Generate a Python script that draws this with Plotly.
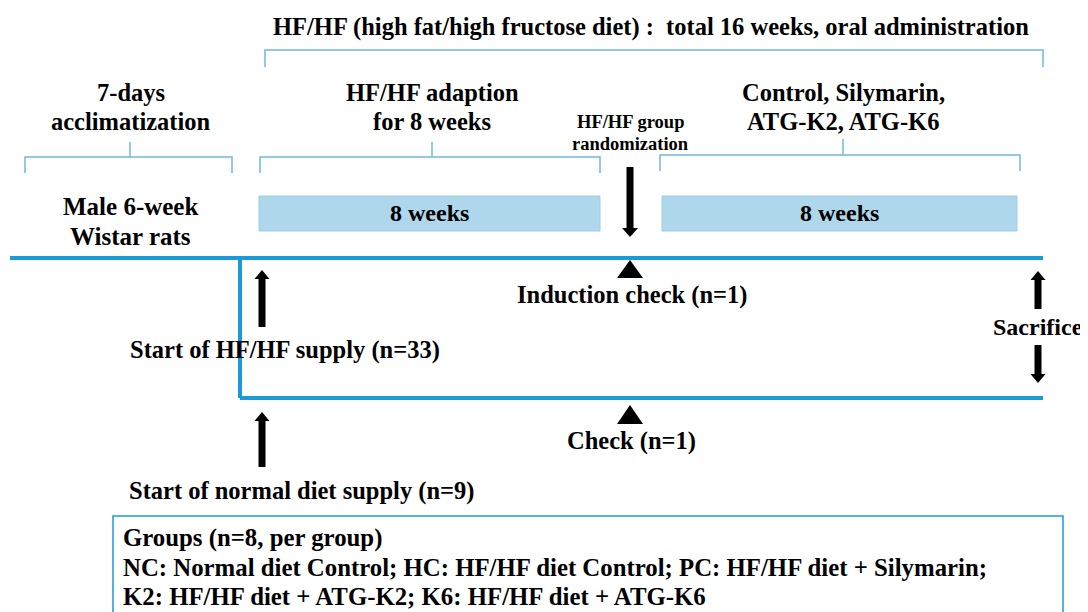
import plotly.graph_objects as go

# ---- text content ----
title_text = "HF/HF (high fat/high fructose diet) :  total 16 weeks, oral administration"
phase_labels = [["7-days", "acclimatization"],
                ["HF/HF adaption", "for 8 weeks"],
                ["Control, Silymarin,", "ATG-K2, ATG-K6"]]
rand_labels = ["HF/HF group", "randomization"]
bar_labels = ["8 weeks", "8 weeks"]
animal_labels = ["Male 6-week", "Wistar rats"]
event_labels = ["Start of HF/HF supply (n=33)", "Induction check (n=1)", "Sacrifice",
                "Start of normal diet supply (n=9)", "Check (n=1)"]
group_lines = ["Groups (n=8, per group)",
               "NC: Normal diet Control; HC: HF/HF diet Control; PC: HF/HF diet + Silymarin;",
               "K2: HF/HF diet + ATG-K2; K6: HF/HF diet + ATG-K6"]

# ---- layout geometry (pixel canvas; page has an 8px body margin) ----
W, H = 1088, 612
OFF = 8
FONT = "Liberation Serif, Times New Roman, serif"
BRACKET = "#72B6E2"
MAINLINE = "#1B9AD8"
BARFILL = "#AFD7EC"
BAREDGE = "#9CCDE9"

shapes = []
annots = []


def txt(x, y, s, size=24, xanchor="center"):
    annots.append(dict(x=x, y=y, xref="x", yref="y", text="<b>%s</b>" % s, showarrow=False,
                       xanchor=xanchor, yanchor="middle",
                       font=dict(family=FONT, size=size, color="black")))


def bracket(x0, x1, yh, ytick, xc=None, ytop=None):
    shapes.append(dict(type="path", path="M%d,%d V%d H%d V%d" % (x0, ytick, yh, x1, ytick),
                       line=dict(color=BRACKET, width=1.5)))
    if xc is not None:
        shapes.append(dict(type="line", x0=xc, x1=xc, y0=yh, y1=ytop,
                           line=dict(color=BRACKET, width=1.5)))


def arrow(x, ytail, yhead, body=7, headw=15, headh=9):
    d = 1 if yhead > ytail else -1
    yb = yhead - d * headh
    shapes.append(dict(type="rect", x0=x - body / 2, x1=x + body / 2, y0=ytail, y1=yb,
                       fillcolor="black", line=dict(width=0)))
    shapes.append(dict(type="path",
                       path="M%.1f,%.1f L%.1f,%.1f L%.1f,%.1f Z" % (x - headw / 2, yb, x + headw / 2, yb, x, yhead),
                       fillcolor="black", line=dict(width=0)))


def triangle(xc, yapex, ybase, w=26):
    shapes.append(dict(type="path",
                       path="M%.1f,%.1f L%.1f,%.1f L%.1f,%.1f Z" % (xc - w / 2, ybase, xc + w / 2, ybase, xc, yapex),
                       fillcolor="black", line=dict(width=0)))


# title and top bracket
txt(651, 27, title_text, 24.5)
bracket(265, 1043, 50, 67)

# phase headers
phase_x = [131, 432, 843]
for px, lines in zip(phase_x, phase_labels):
    txt(px, 92, lines[0], 24.5)
    txt(px, 121, lines[1], 24.5)
bracket(25, 232, 157, 173, 130, 142)
bracket(260, 600, 157, 173, 432, 142)
bracket(660, 1020, 155, 171, 843, 139)

# randomization label + arrow
txt(630, 122, rand_labels[0], 18.5)
txt(630, 144, rand_labels[1], 18.5)
arrow(630, 167, 237, body=7, headw=16, headh=9)

# bars
for (x0, x1), lab in zip([(259, 600), (662, 1017)], bar_labels):
    shapes.append(dict(type="rect", x0=x0, x1=x1, y0=196, y1=231, fillcolor=BARFILL,
                       line=dict(color=BAREDGE, width=1)))
    txt((x0 + x1) / 2, 213, lab, 24)

txt(130, 206, animal_labels[0], 25)
txt(130, 236, animal_labels[1], 25)

# timelines
shapes.append(dict(type="line", x0=10, x1=1043, y0=258, y1=258, line=dict(color=MAINLINE, width=4)))
shapes.append(dict(type="line", x0=240, x1=240, y0=258, y1=398, line=dict(color=MAINLINE, width=4)))
shapes.append(dict(type="line", x0=240, x1=1043, y0=398, y1=398, line=dict(color=MAINLINE, width=4)))

# events
arrow(262, 327, 270, body=7, headw=15, headh=9)
txt(285, 350, event_labels[0], 24.5)
triangle(630, 260, 278, 26)
txt(632, 295, event_labels[1], 24.5)
arrow(1038, 309, 271, body=7, headw=15, headh=9)
txt(1038, 327, event_labels[2], 24)
arrow(1038, 345, 383, body=7, headw=15, headh=9)
arrow(262, 467, 412, body=7, headw=15, headh=9)
txt(301, 491, event_labels[3], 24.5)
triangle(630, 405, 424, 26)
txt(631, 441, event_labels[4], 24.5)

# groups box
shapes.append(dict(type="rect", x0=113, x1=1063, y0=516, y1=625, fillcolor="white",
                   line=dict(color=MAINLINE, width=1.5), layer="below"))
for i, line in enumerate(group_lines):
    txt(121, 538 + 29 * i, line, 24.8, xanchor="left")

fig = go.Figure()
fig.update_layout(
    width=W - OFF, height=H - OFF, margin=dict(l=0, r=0, t=0, b=0),
    paper_bgcolor="white", plot_bgcolor="white",
    xaxis=dict(range=[OFF, W], visible=False, fixedrange=True),
    yaxis=dict(range=[H, OFF], visible=False, fixedrange=True),
    shapes=shapes, annotations=annots, showlegend=False,
)
fig.write_html("out.html")
